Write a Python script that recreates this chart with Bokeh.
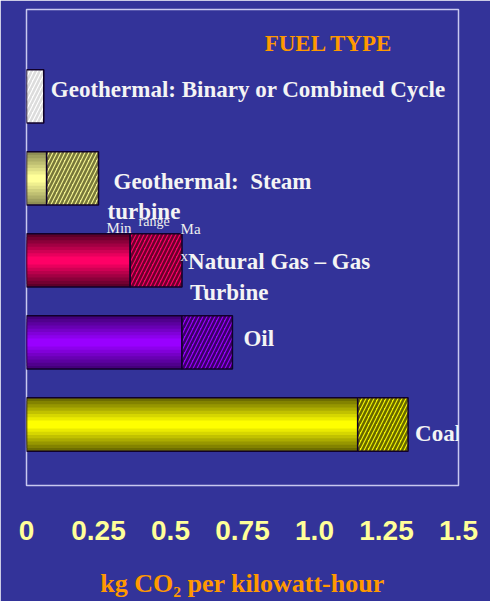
from bokeh.plotting import figure
from bokeh.models import Range1d, FixedTicker, ColumnDataSource
from bokeh.core.properties import value
from bokeh.embed import file_html
from bokeh.resources import INLINE

# ---- data ----
fuels = ["Geothermal: Binary or Combined Cycle", "Geothermal: Steam turbine",
         "Natural Gas – Gas Turbine", "Oil", "Coal"]
min_vals = [0.0, 0.07, 0.36, 0.54, 1.15]
max_vals = [0.06, 0.25, 0.54, 0.715, 1.325]
tick_vals = [0.0, 0.25, 0.5, 0.75, 1.0, 1.25, 1.5]
tick_labels = ["0", "0.25", "0.5", "0.75", "1.0", "1.25", "1.5"]

# ---- styles ----
edge_cols = ["#ffffff", "#8f8f55", "#5c0028", "#44007a", "#6e6e00"]
mid_cols = ["#ffffff", "#ffff99", "#ff0066", "#9900ff", "#ffff00"]
hatch_fill = ["#ffffff", "#f4f490", "#ff0066", "#9900ff", "#f5f500"]
hatch_cols = ["#dcdcdc", "#77773a", "#6a002c", "#3a0066", "#666600"]
BG = "#333399"
BAR_H = 0.65

n = len(fuels)
ypos = [n - 1 - i for i in range(n)]

p = figure(width=490, height=601, output_backend="svg", toolbar_location=None,
           x_range=Range1d(0, 1.5), y_range=Range1d(-0.744, 5.06),
           min_border_left=26, min_border_right=32, min_border_top=9,
           min_border_bottom=116, background_fill_color=BG, border_fill_color=BG)
p.grid.visible = False
p.yaxis.visible = False
p.outline_line_color = "#c8c8f0"
p.outline_line_width = 1.5

ax = p.xaxis[0]
ax.ticker = FixedTicker(ticks=tick_vals)
ax.major_label_overrides = {v: s for v, s in zip(tick_vals, tick_labels)}
ax.axis_line_color = None
ax.major_tick_line_color = None
ax.minor_tick_line_color = None
ax.major_label_text_font = "Liberation Sans"
ax.major_label_text_font_style = "bold"
ax.major_label_text_font_size = "28px"
ax.major_label_text_color = "#ffff99"
ax.major_label_standoff = 29
ax.axis_label = "kg CO₂ per kilowatt-hour"
ax.axis_label_text_font = "Liberation Serif"
ax.axis_label_text_font_style = "bold"
ax.axis_label_text_font_size = "26px"
ax.axis_label_text_color = "#ff9900"
ax.axis_label_standoff = 26


def mix(c1, c2, t):
    a = [int(c1[i:i + 2], 16) for i in (1, 3, 5)]
    b = [int(c2[i:i + 2], 16) for i in (1, 3, 5)]
    return "#%02x%02x%02x" % tuple(round(a[k] + (b[k] - a[k]) * t) for k in range(3))


LAYERS = 8
# solid (min) segments with a vertical gradient made of nested bars
for k in range(LAYERS):
    t = k / (LAYERS - 1)
    h = BAR_H * (1 - 0.85 * t)
    cols = [mix(edge_cols[i], mid_cols[i], t) for i in range(n)]
    src = ColumnDataSource(dict(y=ypos, right=min_vals, c=cols))
    p.hbar(y="y", left=0, right="right", height=h, source=src,
           fill_color="c", line_color=None)
src = ColumnDataSource(dict(y=ypos, right=min_vals))
p.hbar(y="y", left=0, right="right", height=BAR_H, source=src,
       fill_color=None, line_color="#10002a", line_width=1.5)

# hatched (range) segments: plain fill, then diagonal hatch on top
src = ColumnDataSource(dict(y=ypos, left=min_vals, right=max_vals,
                            fc=hatch_fill, hc=hatch_cols))
p.hbar(y="y", left="left", right="right", height=BAR_H, source=src,
       fill_color="fc", line_color=None)
p.hbar(y="y", left="left", right="right", height=BAR_H, source=src,
       fill_color=None, hatch_pattern="/", hatch_color="hc", hatch_scale=8,
       hatch_weight=2.5, line_color="#10002a", line_width=1.5)

# ---- labels ----
FONT = value("Liberation Serif")
lab_x = [max_vals[0], max_vals[1], max_vals[1], max_vals[2], max_vals[2], max_vals[3], max_vals[4]]
lab_y = [ypos[0], ypos[1], ypos[1], ypos[2], ypos[2], ypos[3], ypos[4]]
lab_t = ["Geothermal: Binary or Combined Cycle", "Geothermal:\u00a0 Steam", "turbine",
         "Natural Gas – Gas", "Turbine", "Oil", "Coal"]
lab_dx = [7, 15, 9, 6, 8, 11, 7]
lab_dy = [-7, 3, 33, 1, 32, -4, 9]
for x, y, t, dx, dy in zip(lab_x, lab_y, lab_t, lab_dx, lab_dy):
    p.text(x=[x], y=[y], text=[t], x_offset=dx, y_offset=dy, text_font=FONT,
           text_font_style="bold", text_font_size="23px", text_color="#f4f4f4",
           text_baseline="middle", text_align="left")

# small Min / range / Max annotation
small = [("Min", 0.278, 2.39, "15px"), ("range", 0.389, 2.47, "14px"),
         ("Ma", 0.535, 2.38, "15px"), ("x", 0.535, 2.05, "15px")]
for t, x, y, fs in small:
    p.text(x=[x], y=[y], text=[t], text_font=FONT, text_font_size=fs,
           text_color="#eeeeee", text_baseline="middle", text_align="left")

p.text(x=[1.05], y=[4.65], text=["FUEL TYPE"], text_font=FONT, text_font_style="bold",
       text_font_size="23px", text_color="#ff9900", text_baseline="middle",
       text_align="center")

html = file_html(p, INLINE, title="CO2 per kWh by fuel type")
html = html.replace("</head>", "<style>html,body{background:#ffffff;overflow:hidden}</style></head>", 1)
open("out.html", "w").write(html)
